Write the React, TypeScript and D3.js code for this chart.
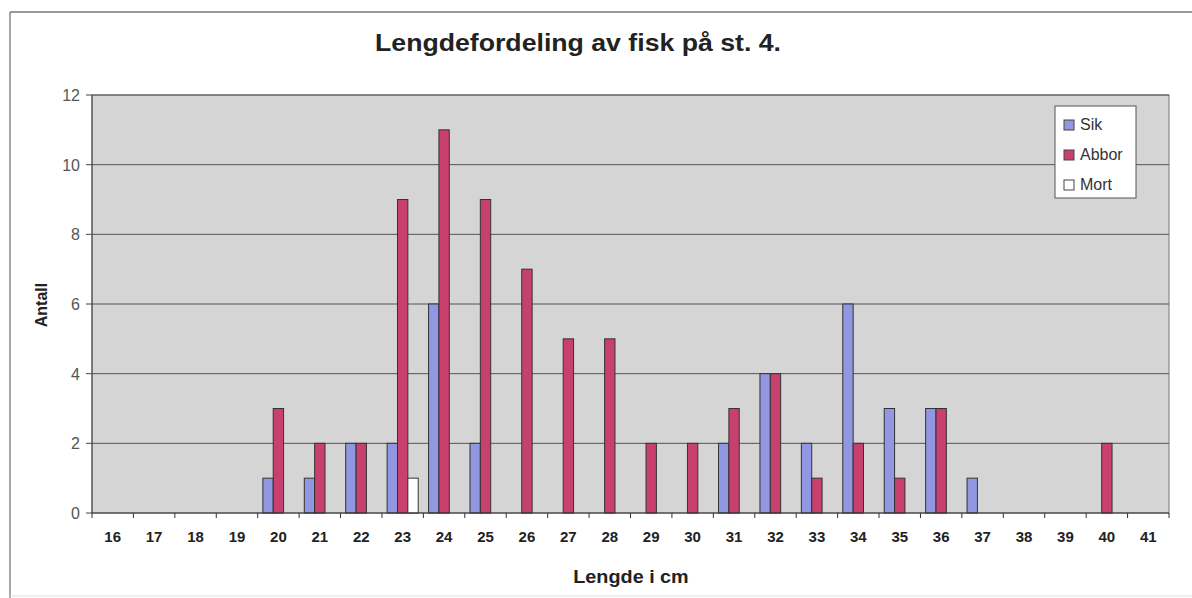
import React from "react";
import * as d3 from "d3";

const categories = ["16","17","18","19","20","21","22","23","24","25","26","27","28","29","30","31","32","33","34","35","36","37","38","39","40","41"];
const seriesNames = ["Sik", "Abbor", "Mort"];
const sik =   [0,0,0,0,1,1,2,2,6,2,0,0,0,0,0,2,4,2,6,3,3,1,0,0,0,0];
const abbor = [0,0,0,0,3,2,2,9,11,9,7,5,5,2,2,3,4,1,2,1,3,0,0,0,2,0];
const mort =  [0,0,0,0,0,0,0,1,0,0,0,0,0,0,0,0,0,0,0,0,0,0,0,0,0,0];
const yTicks = [0, 2, 4, 6, 8, 10, 12];
const colors = ["#9297e2", "#c8406e", "#ffffff"];

const W = 1192, H = 598;
const left = 92, right = 1169, top = 95, bottom = 513;

export default function App() {
  const x = d3.scaleBand<string>().domain(categories).range([left, right]).paddingInner(0).paddingOuter(0);
  const xs = d3.scaleBand<string>().domain(seriesNames).range([0, x.bandwidth()]).paddingInner(0).paddingOuter(0.5);
  const y = d3.scaleLinear().domain([0, 12]).range([bottom, top]);
  const data = [sik, abbor, mort];
  const font = "Arial, 'Liberation Sans', sans-serif";
  const boundaries = categories.map((c) => x(c) as number).concat([right]);

  return (
    <svg width={W} height={H} style={{ position: "absolute", left: 0, top: 0 }} fontFamily={font}>
      <rect x={0} y={0} width={W} height={H} fill="#fff" />
      <line x1={10} x2={W} y1={12} y2={12} stroke="#777" strokeWidth={1.5} />
      <line x1={10} x2={10} y1={12} y2={H} stroke="#888" strokeWidth={1.5} />
      <line x1={10} x2={W} y1={596} y2={596} stroke="#ddd" strokeWidth={1} />
      <text transform="translate(578,51) scale(1.16,1)" textAnchor="middle" fontSize={23} fontWeight="bold" fill="#222">Lengdefordeling av fisk på st. 4.</text>
      <rect x={left} y={top} width={right - left} height={bottom - top} fill="#d5d5d5" stroke="#777" strokeWidth={1} />
      {yTicks.map((t) => (
        <g key={t}>
          {t > 0 && <line x1={left} x2={right} y1={y(t)} y2={y(t)} stroke="#555" strokeWidth={1} />}
          <line x1={left - 6} x2={left} y1={y(t)} y2={y(t)} stroke="#444" />
          <text x={left - 12} y={y(t) + 6} textAnchor="end" fontSize={16} fill="#555">{t}</text>
        </g>
      ))}
      {data.map((vals, si) =>
        vals.map((v, i) =>
          v > 0 ? (
            <rect key={si + "-" + i}
              x={(x(categories[i]) as number) + (xs(seriesNames[si]) as number)}
              y={y(v)} width={xs.bandwidth()} height={y(0) - y(v)}
              fill={colors[si]} stroke="#333" strokeWidth={1} />
          ) : null
        )
      )}
      <line x1={left} x2={right} y1={bottom} y2={bottom} stroke="#333" strokeWidth={1.2} />
      <line x1={left} x2={left} y1={top} y2={bottom} stroke="#444" strokeWidth={1} />
      {boundaries.map((b, i) => (
        <line key={i} x1={b} x2={b} y1={bottom} y2={bottom + 5} stroke="#333" />
      ))}
      {categories.map((c) => (
        <text key={c} x={(x(c) as number) + x.bandwidth() / 2} y={542} textAnchor="middle" fontSize={15} fontWeight="bold" fill="#222">{c}</text>
      ))}
      <text transform="translate(631,583) scale(1.1,1)" textAnchor="middle" fontSize={18} fontWeight="bold" fill="#222">Lengde i cm</text>
      <text transform="translate(47,305) rotate(-90)" textAnchor="middle" fontSize={16} fontWeight="bold" fill="#222">Antall</text>
      <g>
        <rect x={1055} y={106} width={81} height={92} fill="#fff" stroke="#555" strokeWidth={1} />
        {seriesNames.map((s, i) => (
          <g key={s}>
            <rect x={1064} y={120 + i * 30} width={10} height={10} fill={colors[i]} stroke="#444" strokeWidth={1} />
            <text x={1080} y={130 + i * 30} fontSize={16} fill="#333">{s}</text>
          </g>
        ))}
      </g>
    </svg>
  );
}
